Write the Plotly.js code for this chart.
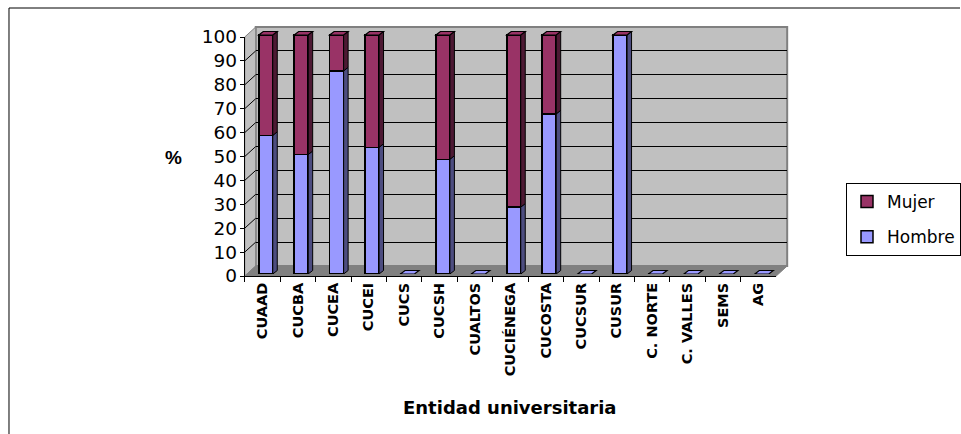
<!DOCTYPE html>
<html>
<head>
<meta charset="utf-8">
<script src="https://cdn.plot.ly/plotly-3.0.1.min.js"></script>
<style>html,body{margin:0;padding:0;background:#fff;}#chart{width:961px;height:434px;}</style>
</head>
<body>
<div id="chart"></div>
<script>
// ---- data ----
const categories = ['CUAAD','CUCBA','CUCEA','CUCEI','CUCS','CUCSH','CUALTOS','CUCIÉNEGA','CUCOSTA','CUCSUR','CUSUR','C. NORTE','C. VALLES','SEMS','AG'];
const hombre = [58, 50, 85, 53, 0, 48, 0, 28, 67, 0, 100, 0, 0, 0, 0];
const mujer  = [42, 50, 15, 47, 0, 52, 0, 72, 33, 0, 0, 0, 0, 0, 0];
const yTicks = [0,10,20,30,40,50,60,70,80,90,100];
const seriesNames = ['Hombre','Mujer'];

// ---- layout geometry (pixels) ----
const W = 961, H = 434;
const px = v => v / W;
const py = v => (H - v) / H;
const FRONT = {x0:245, x1:777, y0:276, y1:37};
const DEPTH = {dx:11, dy:-10};
const BACK = {x0:FRONT.x0+DEPTH.dx, x1:FRONT.x1+DEPTH.dx, y0:FRONT.y0+DEPTH.dy, y1:FRONT.y1+DEPTH.dy};
const BARPL = {dx:3.3, dy:-2};
const YMAX3 = 105;
const unitY = (FRONT.y0 - FRONT.y1) / 100;
const bar3Top = FRONT.y0 + BARPL.dy - YMAX3 * unitY;
const catW = (FRONT.x1 - FRONT.x0) / categories.length;
const barW = 0.395;
const faceDx = 4.5 / catW, faceDy = 3.5 / unitY;

const FONT = 'Liberation Sans, Arial, sans-serif';
const WIDEFONT = 'DejaVu Sans, Verdana, sans-serif';
const colH = '#9999FF', colM = '#993366', colHs = '#4D4D80', colMs = '#4D1933';
const idx = categories.map((c, i) => i);

const traces = [
  {type:'scatter', x:categories, y:categories.map(() => null), xaxis:'x', yaxis:'y', showlegend:false, hoverinfo:'skip', mode:'markers'},
  {type:'scatter', x:[null], y:[null], xaxis:'x2', yaxis:'y2', showlegend:false, hoverinfo:'skip', mode:'markers'},
  {type:'bar', name:seriesNames[0], x:idx, y:hombre, xaxis:'x3', yaxis:'y3', width:barW, legendgroup:'h', legendrank:2,
   text:categories, hovertemplate:'%{text}: %{y}<extra>Hombre</extra>', textposition:'none',
   marker:{color:colH, line:{color:'#000', width:1.5}}},
  {type:'bar', name:seriesNames[1], x:idx, y:mujer, xaxis:'x3', yaxis:'y3', width:barW, legendgroup:'m', legendrank:1,
   text:categories, hovertemplate:'%{text}: %{y}<extra>Mujer</extra>', textposition:'none',
   marker:{color:colM, line:{color:'#000', width:1.5}}}
];

const shapes = [];
// outer frame (left & top)
shapes.push({type:'line', xref:'paper', yref:'paper', x0:px(9), x1:px(9), y0:py(8), y1:0, line:{color:'#000', width:1}});
shapes.push({type:'line', xref:'paper', yref:'paper', x0:px(9), x1:1, y0:py(8), y1:py(8), line:{color:'#000', width:1}});
// back wall
shapes.push({type:'rect', xref:'paper', yref:'paper', layer:'below', x0:px(BACK.x0), x1:px(BACK.x1), y0:py(BACK.y0), y1:py(BACK.y1),
  fillcolor:'#C0C0C0', line:{color:'#808080', width:2}});
// side wall
shapes.push({type:'path', xref:'paper', yref:'paper', layer:'below',
  path:`M ${px(FRONT.x0)} ${py(FRONT.y1)} L ${px(BACK.x0)} ${py(BACK.y1)} L ${px(BACK.x0)} ${py(BACK.y0)} L ${px(FRONT.x0)} ${py(FRONT.y0)} Z`,
  fillcolor:'#C0C0C0', line:{color:'#808080', width:1}});
// floor
shapes.push({type:'path', xref:'paper', yref:'paper', layer:'below',
  path:`M ${px(FRONT.x0)} ${py(FRONT.y0)} L ${px(FRONT.x1)} ${py(FRONT.y0)} L ${px(BACK.x1)} ${py(BACK.y0)} L ${px(BACK.x0)} ${py(BACK.y0)} Z`,
  fillcolor:'#808080', line:{color:'#808080', width:1}});
// diagonal gridlines on the side wall
yTicks.filter(v => v > 0 && v < 100).forEach(v => {
  const yf = FRONT.y0 - v * unitY, yb = BACK.y0 - v * unitY;
  shapes.push({type:'line', xref:'paper', yref:'paper', x0:px(FRONT.x0), x1:px(BACK.x0), y0:py(yf), y1:py(yb), line:{color:'#000', width:1}});
});
// 3D faces of the bars (side and top), computed from the data
categories.forEach((c, i) => {
  const h = hombre[i], m = mujer[i], t = h + m;
  const r = i + barW / 2, l = i - barW / 2;
  if (h > 0) shapes.push({type:'path', xref:'x3', yref:'y3', layer:'above',
    path:`M ${r} 0 L ${r+faceDx} ${faceDy} L ${r+faceDx} ${h+faceDy} L ${r} ${h} Z`, fillcolor:colHs, line:{color:'#000', width:1}});
  if (m > 0) shapes.push({type:'path', xref:'x3', yref:'y3', layer:'above',
    path:`M ${r} ${h} L ${r+faceDx} ${h+faceDy} L ${r+faceDx} ${t+faceDy} L ${r} ${t} Z`, fillcolor:colMs, line:{color:'#000', width:1}});
  shapes.push({type:'path', xref:'x3', yref:'y3', layer:'above',
    path:`M ${l} ${t} L ${r} ${t} L ${r+faceDx} ${t+faceDy} L ${l+faceDx} ${t+faceDy} Z`,
    fillcolor: t > 0 ? colM : colH, line:{color:'#000', width:1.2}});
});

const layout = {
  width:W, height:H, autosize:false,
  margin:{l:0, r:0, t:0, b:0, pad:0},
  paper_bgcolor:'#FFFFFF', plot_bgcolor:'rgba(0,0,0,0)',
  font:{family:FONT, color:'#000'},
  barmode:'stack', showlegend:true,
  xaxis:{domain:[px(FRONT.x0), px(FRONT.x1)], anchor:'y', type:'category', categoryarray:categories, categoryorder:'array',
    range:[-0.5, categories.length - 0.5], showline:true, linecolor:'#000', linewidth:1, mirror:false,
    ticks:'outside', tickson:'boundaries', ticklen:5, tickcolor:'#000', tickangle:-90,
    tickfont:{family:WIDEFONT, size:14.5, weight:'bold'}, showgrid:false, zeroline:false, fixedrange:true},
  yaxis:{domain:[py(FRONT.y0), py(FRONT.y1)], anchor:'x', range:[0,100], tickvals:yTicks, ticks:'outside', ticklen:4,
    tickcolor:'#000', showline:true, linecolor:'#000', linewidth:1, tickfont:{family:WIDEFONT, size:18.5}, ticklabelstandoff:-1,
    showgrid:false, zeroline:false, fixedrange:true},
  xaxis2:{domain:[px(BACK.x0), px(BACK.x1)], anchor:'y2', range:[0,1], visible:false, fixedrange:true},
  yaxis2:{domain:[py(BACK.y0), py(BACK.y1)], anchor:'x2', range:[0,100], tickvals:yTicks.filter(v => v > 0 && v < 100),
    showgrid:true, gridcolor:'#000', gridwidth:1, showticklabels:false, ticks:'', showline:false, zeroline:false, fixedrange:true},
  xaxis3:{domain:[px(FRONT.x0 + BARPL.dx), px(FRONT.x1 + BARPL.dx)], anchor:'y3', range:[-0.5, categories.length - 0.5], visible:false, fixedrange:true},
  yaxis3:{domain:[py(FRONT.y0 + BARPL.dy), py(bar3Top)], anchor:'x3', range:[0, YMAX3], visible:false, fixedrange:true},
  legend:{x:px(847), y:py(183), xanchor:'left', yanchor:'top', bordercolor:'#000', borderwidth:1, bgcolor:'#fff',
    font:{family:WIDEFONT, size:17}, traceorder:'grouped', tracegroupgap:10, itemwidth:30, itemclick:false, itemdoubleclick:false},
  shapes:shapes,
  annotations:[
    {text:'%', xref:'paper', yref:'paper', x:px(174), y:py(157), showarrow:false, xanchor:'center', yanchor:'middle',
     font:{family:FONT, size:19, weight:'bold'}},
    {text:'Entidad universitaria', xref:'paper', yref:'paper', x:px(511), y:py(407), showarrow:false, xanchor:'center', yanchor:'middle',
     font:{family:WIDEFONT, size:18, weight:'bold'}}
  ]
};

Plotly.newPlot('chart', traces, layout, {displayModeBar:false, staticPlot:false, responsive:false});
</script>
</body>
</html>
